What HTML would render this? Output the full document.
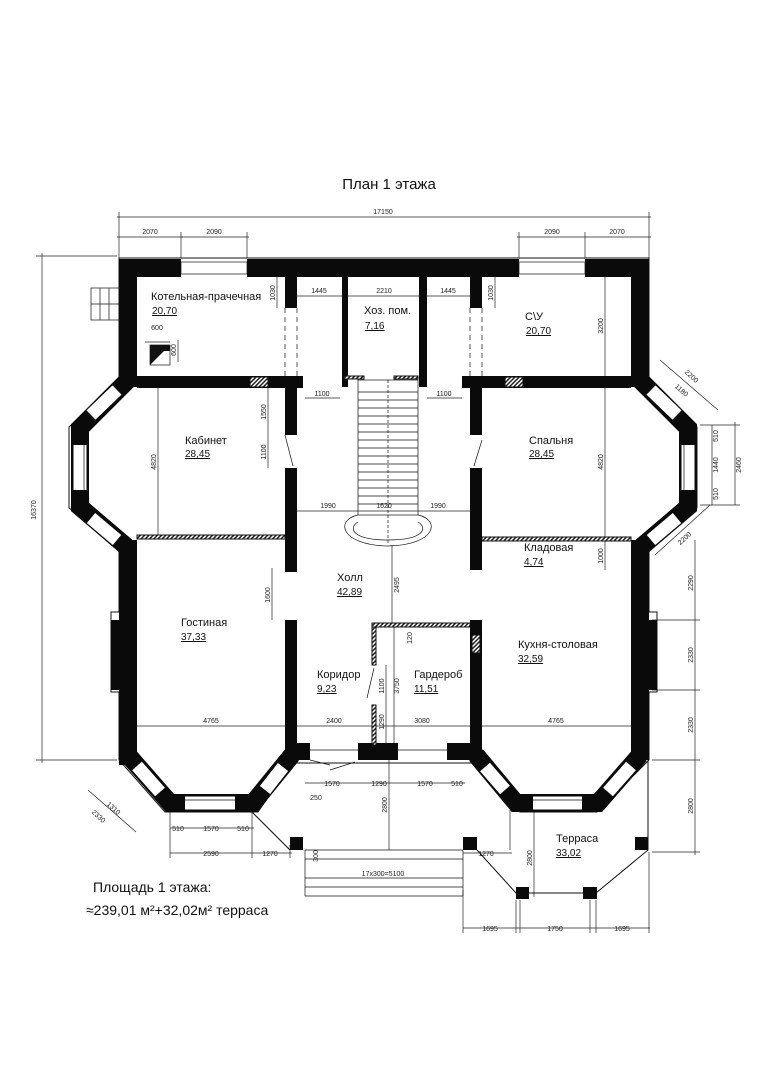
<!DOCTYPE html>
<html><head><meta charset="utf-8"><style>
html,body{margin:0;padding:0;background:#fff;}
svg{display:block;font-family:"Liberation Sans Narrow","Liberation Sans","DejaVu Sans",sans-serif;}
.d{font-size:7px;fill:#222;}
.r{font-size:11px;fill:#111;}
.u{font-size:10px;fill:#111;text-decoration:underline;}
</style></head><body>
<svg width="776" height="1080" viewBox="0 0 776 1080" xmlns="http://www.w3.org/2000/svg">
<defs>
<pattern id="h" width="3" height="3" patternUnits="userSpaceOnUse" patternTransform="rotate(45)">
<rect width="3" height="3" fill="#fff"/><rect width="1.5" height="3" fill="#222"/>
</pattern>
</defs>
<rect width="776" height="1080" fill="#fff"/>
<text x="389" y="189" font-size="15" text-anchor="middle" fill="#111">План 1 этажа</text>

<g stroke="#222" stroke-width="0.7" fill="none">
<line x1="117" y1="217" x2="651" y2="217"/>
<line x1="117" y1="237" x2="183" y2="237"/><line x1="181" y1="237" x2="249" y2="237"/>
<line x1="517" y1="237" x2="651" y2="237"/>
<line x1="119" y1="212" x2="119" y2="258"/><line x1="649" y1="212" x2="649" y2="258"/>
<line x1="181" y1="232" x2="181" y2="258"/><line x1="247" y1="232" x2="247" y2="258"/>
<line x1="519" y1="232" x2="519" y2="258"/><line x1="585" y1="232" x2="585" y2="258"/>
<line x1="42" y1="253" x2="42" y2="763"/><line x1="36" y1="256" x2="117" y2="256"/><line x1="36" y1="760" x2="117" y2="760"/>
<line x1="695" y1="540" x2="695" y2="855"/>
<line x1="652" y1="620" x2="700" y2="620"/><line x1="652" y1="690" x2="700" y2="690"/><line x1="652" y1="760" x2="700" y2="760"/><line x1="652" y1="852" x2="700" y2="852"/>
<line x1="305" y1="783" x2="465" y2="783"/>
<line x1="170" y1="828" x2="254" y2="828"/>
<line x1="170" y1="853" x2="292" y2="853"/>
<line x1="463" y1="853" x2="512" y2="853"/>
<line x1="463" y1="928" x2="650" y2="928"/>
<line x1="170" y1="812" x2="170" y2="858"/><line x1="252" y1="812" x2="252" y2="858"/><line x1="290" y1="845" x2="290" y2="858"/>
<line x1="463" y1="890" x2="463" y2="933"/><line x1="516" y1="900" x2="516" y2="933"/><line x1="520" y1="900" x2="520" y2="933"/><line x1="590" y1="900" x2="590" y2="933"/><line x1="596" y1="900" x2="596" y2="933"/><line x1="649" y1="852" x2="649" y2="933"/>
<line x1="297" y1="296" x2="342" y2="296"/><line x1="348" y1="296" x2="419" y2="296"/><line x1="427" y1="296" x2="470" y2="296"/>
<line x1="277" y1="277" x2="277" y2="308"/><line x1="495" y1="277" x2="495" y2="308"/>
<line x1="305" y1="398" x2="340" y2="398"/><line x1="427" y1="398" x2="462" y2="398"/>
<line x1="268" y1="388" x2="268" y2="468"/>
<line x1="158" y1="388" x2="158" y2="535"/><line x1="605" y1="277" x2="605" y2="570"/>
<line x1="297" y1="511" x2="470" y2="511"/>
<line x1="392" y1="545" x2="392" y2="623"/>
<line x1="272" y1="568" x2="272" y2="620"/>
<line x1="137" y1="726" x2="631" y2="726"/>
<line x1="389" y1="760" x2="389" y2="850"/><line x1="534" y1="810" x2="534" y2="897"/>
<line x1="394" y1="627" x2="394" y2="745"/><line x1="386" y1="665" x2="386" y2="745"/>
<line x1="510" y1="810" x2="510" y2="850"/>
<line x1="88" y1="790" x2="136" y2="832"/><line x1="660" y1="360" x2="718" y2="410"/><line x1="710" y1="505" x2="655" y2="555"/>
<line x1="712" y1="425" x2="712" y2="505"/><line x1="735" y1="422" x2="735" y2="505"/>
<line x1="700" y1="425" x2="740" y2="425"/><line x1="700" y1="505" x2="740" y2="505"/>
<line x1="145" y1="342" x2="170" y2="342"/><line x1="178" y1="340" x2="178" y2="362"/>
</g>

<g class="d" text-anchor="middle">
<text x="383" y="214">17150</text>
<text x="150" y="234">2070</text><text x="214" y="234">2090</text>
<text x="552" y="234">2090</text><text x="617" y="234">2070</text>
<text x="319" y="293">1445</text><text x="384" y="293">2210</text><text x="448" y="293">1445</text>
<text x="322" y="396">1100</text><text x="444" y="396">1100</text>
<text x="328" y="508">1990</text><text x="384" y="508">1620</text><text x="438" y="508">1990</text>
<text x="211" y="723">4765</text><text x="334" y="723">2400</text><text x="422" y="723">3080</text><text x="556" y="723">4765</text>
<text x="332" y="786">1570</text><text x="379" y="786">1290</text><text x="425" y="786">1570</text><text x="457" y="786">510</text>
<text x="316" y="800">250</text>
<text x="178" y="831">510</text><text x="211" y="831">1570</text><text x="243" y="831">510</text>
<text x="211" y="856">2590</text><text x="270" y="856">1270</text><text x="486" y="856">1270</text>
<text x="490" y="931">1695</text><text x="555" y="931">1750</text><text x="622" y="931">1695</text>
<text x="383" y="876">17х300=5100</text>
<text x="157" y="330">600</text>
</g>
<g class="d" text-anchor="middle">
<text transform="translate(36,510) rotate(-90)">16370</text>
<text transform="translate(693,583) rotate(-90)">2290</text>
<text transform="translate(693,655) rotate(-90)">2330</text>
<text transform="translate(693,725) rotate(-90)">2330</text>
<text transform="translate(693,806) rotate(-90)">2800</text>
<text transform="translate(275,293) rotate(-90)">1030</text>
<text transform="translate(493,293) rotate(-90)">1030</text>
<text transform="translate(266,412) rotate(-90)">1550</text>
<text transform="translate(266,452) rotate(-90)">1100</text>
<text transform="translate(156,462) rotate(-90)">4820</text>
<text transform="translate(603,462) rotate(-90)">4820</text>
<text transform="translate(603,326) rotate(-90)">3200</text>
<text transform="translate(603,556) rotate(-90)">1000</text>
<text transform="translate(399,585) rotate(-90)">2495</text>
<text transform="translate(270,595) rotate(-90)">1600</text>
<text transform="translate(412,638) rotate(-90)">120</text>
<text transform="translate(384,686) rotate(-90)">1100</text>
<text transform="translate(399,686) rotate(-90)">3750</text>
<text transform="translate(384,722) rotate(-90)">1290</text>
<text transform="translate(387,805) rotate(-90)">2800</text>
<text transform="translate(532,858) rotate(-90)">2800</text>
<text transform="translate(318,856) rotate(-90)">300</text>
<text transform="translate(176,350) rotate(-90)">600</text>
<text transform="translate(718,465) rotate(-90)">1440</text>
<text transform="translate(718,436) rotate(-90)">510</text>
<text transform="translate(718,494) rotate(-90)">510</text>
<text transform="translate(741,465) rotate(-90)">2460</text>
<text transform="translate(112,810) rotate(42)">1310</text>
<text transform="translate(97,818) rotate(42)">2330</text>
<text transform="translate(690,378) rotate(42)">2200</text>
<text transform="translate(680,392) rotate(42)">1180</text>
<text transform="translate(686,540) rotate(-42)">2200</text>
</g>

<g stroke="#111" stroke-width="1" fill="none">
<polyline points="119,258 649,258 649,380 697,427 697,508 649,545 649,612 657,612 657,692 649,692 649,760"/>
<polyline points="119,258 119,382 69,427 69,508 119,545 119,612 111,612 111,692 119,692 119,760"/>
<polyline points="119,760 165,812 258,812 292,763 470,763 475,763 520,812 597,812 649,760"/>
<polyline points="252,812 290,850"/>
<polyline points="477,850 516,893 596,893 648,850 648,760"/>
</g>

<g fill="#0a0a0a">
<rect x="119" y="259" width="530" height="18"/>
<rect x="119" y="259" width="18" height="128"/>
<rect x="631" y="259" width="18" height="128"/>
<rect x="137" y="376" width="166" height="12"/>
<rect x="462" y="376" width="169" height="12"/>
<rect x="285" y="277" width="12" height="31"/>
<rect x="342" y="277" width="6" height="110"/>
<rect x="419" y="277" width="8" height="110"/>
<rect x="470" y="277" width="12" height="31"/>
<rect x="285" y="388" width="12" height="47"/>
<rect x="285" y="468" width="12" height="104"/>
<rect x="285" y="620" width="12" height="125"/>
<rect x="470" y="388" width="12" height="47"/>
<rect x="470" y="468" width="12" height="102"/>
<rect x="470" y="620" width="12" height="135"/>
<rect x="119" y="540" width="18" height="225"/>
<rect x="111" y="620" width="8" height="70"/>
<rect x="631" y="540" width="18" height="220"/>
<rect x="649" y="620" width="8" height="70"/>
<rect x="285" y="743" width="25" height="17"/>
<rect x="358" y="743" width="40" height="17"/>
<rect x="447" y="743" width="35" height="17"/>
<rect x="290" y="837" width="13" height="13"/>
<rect x="463" y="837" width="14" height="13"/>
<rect x="635" y="837" width="13" height="13"/>
<rect x="516" y="887" width="13" height="12"/>
<rect x="583" y="887" width="14" height="12"/>
</g>
<g fill="none" stroke="#0a0a0a" stroke-width="18" stroke-linejoin="miter">
<polyline points="128,380 80,428 80,507 128,548"/>
<polyline points="640,380 688,428 688,507 640,548"/>
<polyline points="128,755 170,803 253,803 292,755"/>
<polyline points="640,755 598,803 516,803 476,755"/>
</g>
<g fill="none" stroke="#fff" stroke-width="13">
<line x1="91" y1="415" x2="117" y2="390"/>
<line x1="80" y1="445" x2="80" y2="490"/>
<line x1="91" y1="518" x2="117" y2="540"/>
<line x1="677" y1="415" x2="651" y2="390"/>
<line x1="688" y1="445" x2="688" y2="490"/>
<line x1="677" y1="518" x2="651" y2="540"/>
<line x1="137" y1="766" x2="160" y2="792"/><line x1="185" y1="803" x2="235" y2="803"/><line x1="265" y1="790" x2="283" y2="767"/>
<line x1="631" y1="766" x2="608" y2="792"/><line x1="533" y1="803" x2="582" y2="803"/><line x1="505" y1="790" x2="485" y2="767"/>
</g>
<g fill="#fff">
<rect x="181" y="259" width="66" height="18"/>
<rect x="519" y="259" width="66" height="18"/>
<rect x="310" y="743" width="48" height="17"/>
<rect x="398" y="743" width="49" height="17"/>
</g>
<g stroke="#111" stroke-width="0.7" fill="none">
<rect x="181" y="262" width="66" height="12"/>
<rect x="519" y="262" width="66" height="12"/>
<line x1="310" y1="750" x2="358" y2="750"/><line x1="398" y1="750" x2="447" y2="750"/>
<line x1="185" y1="800" x2="235" y2="800"/><line x1="533" y1="800" x2="582" y2="800"/>
<line x1="84" y1="445" x2="84" y2="490"/><line x1="684" y1="445" x2="684" y2="490"/>
<line x1="285" y1="308" x2="285" y2="376" stroke-dasharray="5,4"/>
<line x1="297" y1="308" x2="297" y2="376" stroke-dasharray="5,4"/>
<line x1="470" y1="308" x2="470" y2="376" stroke-dasharray="5,4"/>
<line x1="482" y1="308" x2="482" y2="376" stroke-dasharray="5,4"/>
<line x1="285" y1="435" x2="293" y2="466"/><line x1="482" y1="440" x2="474" y2="466"/>
<line x1="374" y1="668" x2="367" y2="698"/>
<line x1="310" y1="760" x2="330" y2="765"/><line x1="330" y1="770" x2="355" y2="762"/>
<rect x="358" y="380" width="60" height="135"/>
<line x1="388" y1="380" x2="388" y2="545" stroke-dasharray="3,2"/>
<path d="M358,515 C335,520 340,545 388,546 C436,545 441,520 418,515"/>
<path d="M358,522 C348,528 352,540 388,540 C424,540 428,528 418,522"/>
<line x1="305" y1="850" x2="463" y2="850"/><line x1="305" y1="859" x2="463" y2="859"/>
<line x1="305" y1="878" x2="463" y2="878"/><line x1="305" y1="887" x2="463" y2="887"/><line x1="305" y1="896" x2="463" y2="896"/>
<line x1="305" y1="850" x2="305" y2="896"/><line x1="463" y1="850" x2="463" y2="896"/>
<rect x="150" y="345" width="20" height="20"/>
<rect x="91" y="288" width="28" height="32"/>
<line x1="100" y1="288" x2="100" y2="320"/><line x1="109" y1="288" x2="109" y2="320"/>
<line x1="91" y1="304" x2="119" y2="304"/>
</g>
<path d="M150,365 L150,350 Q160,345 170,345 L150,365 Z" fill="#111"/>
<rect x="150" y="345" width="20" height="6" fill="#111"/>
<g stroke="#111" stroke-width="0.7">
<line x1="358" y1="392" x2="418" y2="392"/><line x1="358" y1="400" x2="418" y2="400"/><line x1="358" y1="408" x2="418" y2="408"/><line x1="358" y1="416" x2="418" y2="416"/><line x1="358" y1="424" x2="418" y2="424"/><line x1="358" y1="432" x2="418" y2="432"/><line x1="358" y1="440" x2="418" y2="440"/><line x1="358" y1="448" x2="418" y2="448"/><line x1="358" y1="456" x2="418" y2="456"/><line x1="358" y1="464" x2="418" y2="464"/><line x1="358" y1="472" x2="418" y2="472"/><line x1="358" y1="480" x2="418" y2="480"/><line x1="358" y1="488" x2="418" y2="488"/><line x1="358" y1="496" x2="418" y2="496"/><line x1="358" y1="504" x2="418" y2="504"/>
</g>
<g fill="url(#h)" stroke="#111" stroke-width="1">
<rect x="137" y="535" width="148" height="4"/>
<rect x="482" y="537" width="149" height="4"/>
<rect x="372" y="623" width="98" height="4"/>
<rect x="372" y="627" width="4" height="38"/>
<rect x="372" y="705" width="4" height="40"/>
<rect x="250" y="377" width="18" height="10"/>
<rect x="505" y="377" width="18" height="10"/>
<rect x="472" y="635" width="8" height="18"/>
<rect x="344" y="376" width="20" height="3"/><rect x="394" y="376" width="24" height="3"/>
</g>

<g class="r">
<text x="151" y="300">Котельная-прачечная</text>
<text x="364" y="314">Хоз. пом.</text>
<text x="525" y="320">С\У</text>
<text x="185" y="444">Кабинет</text>
<text x="529" y="444">Спальня</text>
<text x="524" y="551">Кладовая</text>
<text x="337" y="581">Холл</text>
<text x="181" y="626">Гостиная</text>
<text x="518" y="648">Кухня-столовая</text>
<text x="317" y="678">Коридор</text>
<text x="414" y="678">Гардероб</text>
<text x="556" y="842">Терраса</text>
</g>
<g class="u">
<text x="152" y="314">20,70</text>
<text x="365" y="329">7,16</text>
<text x="526" y="334">20,70</text>
<text x="185" y="457">28,45</text>
<text x="529" y="457">28,45</text>
<text x="524" y="565">4,74</text>
<text x="337" y="595">42,89</text>
<text x="181" y="640">37,33</text>
<text x="518" y="662">32,59</text>
<text x="317" y="692">9,23</text>
<text x="414" y="692">11,51</text>
<text x="556" y="856">33,02</text>
</g>

<text x="93" y="892" font-size="14" fill="#111">Площадь 1 этажа:</text>
<text x="86" y="915" font-size="14" fill="#111">≈239,01 м²+32,02м² терраса</text>
</svg>
</body></html>
